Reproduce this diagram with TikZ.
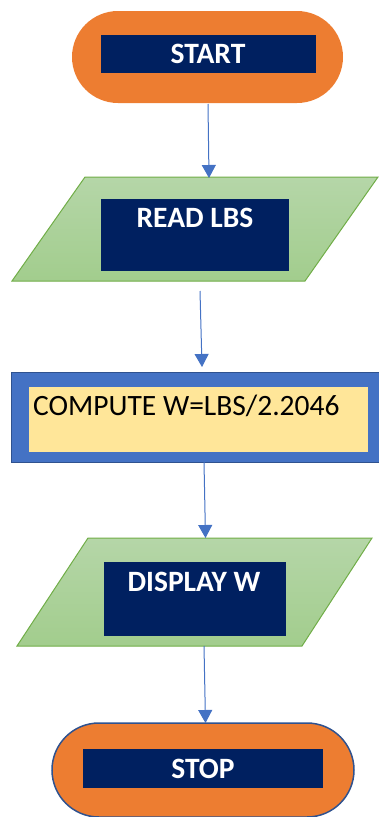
\documentclass[tikz,border=0pt]{standalone}
\usepackage{fontspec}
\setmainfont{Carlito}
\usetikzlibrary{arrows.meta}
\definecolor{termorange}{HTML}{ED7D31}
\definecolor{navy}{HTML}{002060}
\definecolor{gtop}{HTML}{B5D6A8}
\definecolor{gbot}{HTML}{A2CD8D}
\definecolor{gborder}{HTML}{70AD47}
\definecolor{pblue}{HTML}{4472C4}
\definecolor{pborder}{HTML}{2F528F}
\definecolor{pyellow}{HTML}{FFE699}
\definecolor{arrblue}{HTML}{4472C4}
\begin{document}
\begin{tikzpicture}[x=1pt,y=-1pt,
  labelbox/.style={fill=navy, draw=none, inner sep=0pt},
  whitetxt/.style={text=white, font=\fontsize{29.5}{31}\selectfont\bfseries, inner sep=0pt, anchor=base},
  arr/.style={draw=arrblue, line width=1pt, -{Triangle[width=14pt,length=13pt]}},
  iobox/.style={top color=gtop, bottom color=gbot, draw=gborder, line width=1pt}
]
\useasboundingbox (0,0) rectangle (379,817);
\clip (0,0) rectangle (379,817);

% START terminator
\node[fill=termorange, draw=none, rounded corners=46pt, minimum width=271pt, minimum height=92pt, inner sep=0pt] (start) at (207.5,57) {};
\node[labelbox, minimum width=215pt, minimum height=38pt] (startlab) at (208.5,54) {};
\node[whitetxt] (starttxt) at (208,63) {START};

% READ LBS parallelogram
\path[iobox] (85,177) coordinate (readtl) -- (378,177) coordinate (readtr) -- (305,281) coordinate (readbr) -- (12,281) coordinate (readbl) -- cycle;
\node[labelbox, minimum width=188pt, minimum height=72pt] (readlab) at (195,235) {};
\node[whitetxt] (readtxt) at (195,227) {READ LBS};

% COMPUTE process
\node[fill=pblue, draw=pborder, line width=1pt, minimum width=372pt, minimum height=90pt, inner sep=0pt] (compute) at (197,417) {};
\node[fill=pyellow, draw=none, minimum width=339pt, minimum height=65pt, inner sep=0pt] (computelab) at (198.5,419.5) {};
\node[text=black, font=\fontsize{29.5}{31}\selectfont, inner sep=0pt, anchor=base west] (computetxt) at (33,415) {COMPUTE W=LBS/2.2046};

% DISPLAY W parallelogram
\path[iobox] (88,538) coordinate (disptl) -- (372,538) coordinate (disptr) -- (302,646) coordinate (dispbr) -- (17,646) coordinate (dispbl) -- cycle;
\node[labelbox, minimum width=182pt, minimum height=74pt] (displab) at (195,599) {};
\node[whitetxt] (disptxt) at (194,591) {DISPLAY W};

% STOP terminator
\node[fill=termorange, draw=pborder, line width=1.5pt, rounded corners=47pt, minimum width=302pt, minimum height=94pt, inner sep=0pt] (stop) at (203,770) {};
\node[labelbox, minimum width=240pt, minimum height=39pt] (stoplab) at (203,768.5) {};
\node[whitetxt] (stoptxt) at (203,778) {STOP};

% connector end points
\coordinate (a1s) at (208,104);
\coordinate (a1e) at (209,178);
\coordinate (a2s) at (200,291);
\coordinate (a2e) at (202,367);
\coordinate (a3s) at (204,462);
\coordinate (a3e) at (205.5,538);
\coordinate (a4s) at (204,646);
\coordinate (a4e) at (205.5,723);

\draw[arr] (a1s) -- (a1e);
\draw[arr] (a2s) -- (a2e);
\draw[arr] (a3s) -- (a3e);
\draw[arr] (a4s) -- (a4e);
\end{tikzpicture}
\end{document}
